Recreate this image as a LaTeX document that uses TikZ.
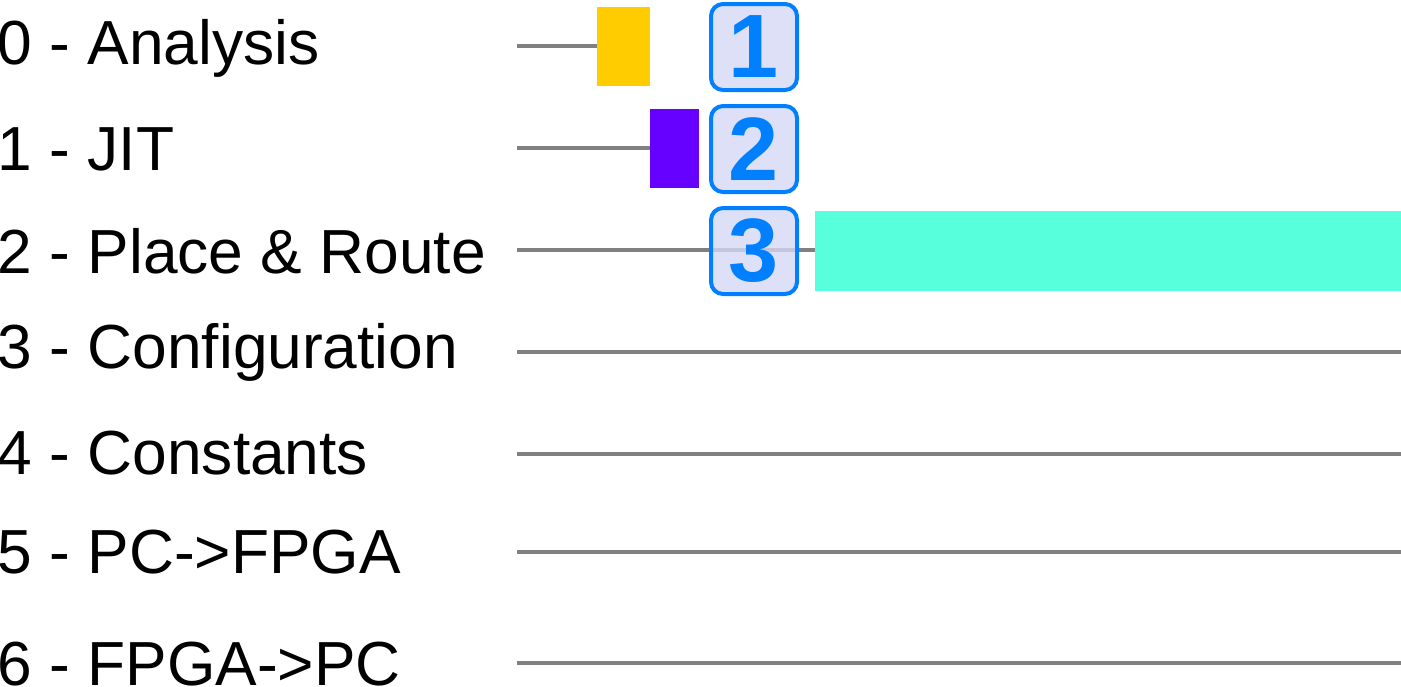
\documentclass[tikz,border=0pt]{standalone}
\usepackage{fontspec}
\setmainfont{Liberation Sans}
\definecolor{gridgrey}{RGB}{128,128,128}
\definecolor{barA}{RGB}{255,204,0}
\definecolor{barB}{RGB}{102,0,255}
\definecolor{barC}{RGB}{87,255,220}
\definecolor{badgeblue}{RGB}{0,127,255}
\definecolor{badgefill}{RGB}{214,216,246}
\begin{document}
\begin{tikzpicture}[x=0.75pt,y=-0.75pt,
  lane/.style={draw=gridgrey,line width=2.6pt},
  lbl/.style={anchor=base west,inner sep=0pt,font=\fontsize{46.7}{50}\selectfont},
  bar/.style={draw=none,inner sep=0pt,minimum height=59.25pt},
  badge/.style={draw=badgeblue,line width=3pt,fill=badgefill,fill opacity=0.8,text opacity=1,
    rounded corners=9pt,minimum size=64.5pt,inner sep=0pt,text=badgeblue,
    font=\fontsize{67.5}{70}\bfseries\selectfont}]
\useasboundingbox (0,0) rectangle (1401,686);
% labels
\node[lbl] (l0) at (-2.5,64) {0 - Analysis};
\node[lbl] (l1) at (-2.5,170) {1 - JIT};
\node[lbl] (l2) at (-2.5,273) {2 - Place \& Route};
\node[lbl] (l3) at (-2.5,368) {3 - Configuration};
\node[lbl] (l4) at (-2.5,474) {4 - Constants};
\node[lbl] (l5) at (-2.5,573) {5 - PC->FPGA};
\node[lbl] (l6) at (-2.5,685) {6 - FPGA->PC};
% bars
\node[bar,fill=barA,minimum width=39.75pt] (b0) at (623.5,46.5) {};
\node[bar,fill=barB,minimum width=36.75pt] (b1) at (674.5,148.5) {};
\node[bar,fill=barC,minimum width=439.5pt,minimum height=60pt] (b2) at (1108,251) {};
% lane start/end coordinates
\coordinate (s0) at (517,46);
\coordinate (s1) at (517,148);
\coordinate (s2) at (517,250);
\coordinate (s3) at (517,352);
\coordinate (e3) at (1401,352);
\coordinate (s4) at (517,454);
\coordinate (e4) at (1401,454);
\coordinate (s5) at (517,552);
\coordinate (e5) at (1401,552);
\coordinate (s6) at (517,663);
\coordinate (e6) at (1401,663);
\draw[lane] (s0) -- (s0 -| b0.west);
\draw[lane] (s1) -- (s1 -| b1.west);
\draw[lane] (s2) -- (s2 -| b2.west);
\draw[lane] (s3) -- (e3);
\draw[lane] (s4) -- (e4);
\draw[lane] (s5) -- (e5);
\draw[lane] (s6) -- (e6);
% badges
\node[badge] (n1) at (754,47) {1};
\node[badge] (n2) at (754,149) {2};
\node[badge] (n3) at (754,251) {3};
\end{tikzpicture}
\end{document}
